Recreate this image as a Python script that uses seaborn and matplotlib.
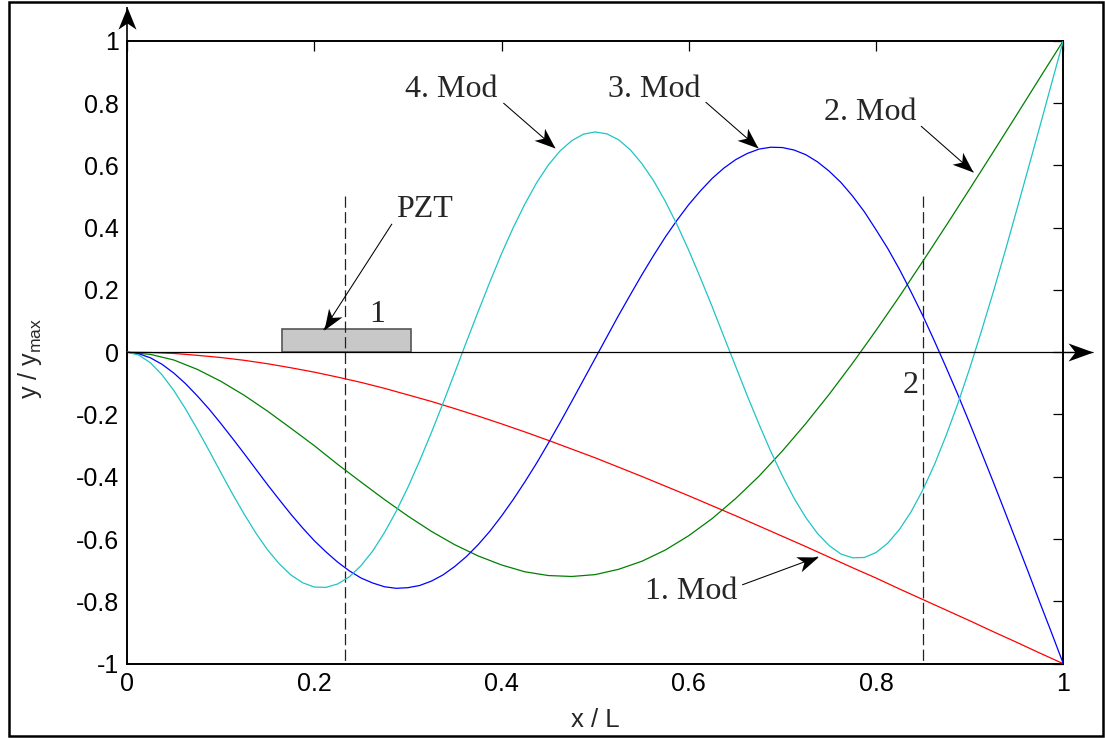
import numpy as np
import pandas as pd
import matplotlib
matplotlib.use("Agg")
import matplotlib.pyplot as plt
import seaborn as sns
from matplotlib.markers import MarkerStyle
from matplotlib.path import Path
from matplotlib.transforms import Affine2D
from matplotlib.patches import Rectangle

# ---------------- data ----------------
x_coarse = [0.0, 0.025, 0.05, 0.075, 0.1, 0.125, 0.15, 0.175, 0.2, 0.225,
            0.25, 0.275, 0.3, 0.325, 0.35, 0.375, 0.4, 0.425, 0.45, 0.475,
            0.5, 0.525, 0.55, 0.575, 0.6, 0.625, 0.65, 0.675, 0.7, 0.725,
            0.75, 0.775, 0.8, 0.825, 0.85, 0.875, 0.9, 0.925, 0.95, 0.975, 1.0]

x_fine = [0.0, 0.0125, 0.025, 0.0375, 0.05, 0.0625, 0.075, 0.0875, 0.1, 0.1125,
          0.125, 0.1375, 0.15, 0.1625, 0.175, 0.1875, 0.2, 0.2125, 0.225, 0.2375,
          0.25, 0.2625, 0.275, 0.2875, 0.3, 0.3125, 0.325, 0.3375, 0.35, 0.3625,
          0.375, 0.3875, 0.4, 0.4125, 0.425, 0.4375, 0.45, 0.4625, 0.475, 0.4875,
          0.5, 0.5125, 0.525, 0.5375, 0.55, 0.5625, 0.575, 0.5875, 0.6, 0.6125,
          0.625, 0.6375, 0.65, 0.6625, 0.675, 0.6875, 0.7, 0.7125, 0.725, 0.7375,
          0.75, 0.7625, 0.775, 0.7875, 0.8, 0.8125, 0.825, 0.8375, 0.85, 0.8625,
          0.875, 0.8875, 0.9, 0.9125, 0.925, 0.9375, 0.95, 0.9625, 0.975, 0.9875, 1.0]

mode1 = [0.0, -0.001, -0.004, -0.010, -0.017, -0.026, -0.037, -0.050, -0.064, -0.080,
         -0.097, -0.116, -0.137, -0.158, -0.181, -0.205, -0.230, -0.256, -0.283, -0.311,
         -0.339, -0.369, -0.399, -0.430, -0.461, -0.493, -0.525, -0.558, -0.591, -0.624,
         -0.658, -0.692, -0.725, -0.760, -0.794, -0.828, -0.862, -0.897, -0.931, -0.966, -1.0]

mode2 = [0.0, -0.007, -0.025, -0.055, -0.093, -0.138, -0.189, -0.244, -0.300, -0.360,
         -0.417, -0.473, -0.526, -0.575, -0.618, -0.654, -0.683, -0.705, -0.717, -0.720,
         -0.714, -0.697, -0.671, -0.635, -0.589, -0.534, -0.470, -0.398, -0.317, -0.229,
         -0.135, -0.035, 0.070, 0.179, 0.292, 0.407, 0.524, 0.642, 0.761, 0.881, 1.0]

mode3 = [0.0, -0.005, -0.018, -0.039, -0.067, -0.101, -0.140, -0.182, -0.228, -0.276,
         -0.325, -0.375, -0.425, -0.473, -0.520, -0.564, -0.605, -0.641, -0.674, -0.702,
         -0.725, -0.741, -0.753, -0.758, -0.756, -0.749, -0.735, -0.715, -0.688, -0.656,
         -0.618, -0.575, -0.526, -0.473, -0.416, -0.356, -0.292, -0.226, -0.158, -0.089,
         -0.020, 0.049, 0.118, 0.184, 0.249, 0.311, 0.370, 0.424, 0.474, 0.518,
         0.558, 0.591, 0.618, 0.638, 0.652, 0.658, 0.657, 0.649, 0.634, 0.611,
         0.581, 0.545, 0.501, 0.451, 0.393, 0.333, 0.266, 0.193, 0.117, 0.035,
         -0.050, -0.137, -0.228, -0.321, -0.415, -0.511, -0.608, -0.705, -0.804, -0.901, -1.0]

mode4 = [0.0, -0.009, -0.034, -0.073, -0.123, -0.182, -0.247, -0.315, -0.385, -0.454,
         -0.519, -0.580, -0.634, -0.679, -0.715, -0.740, -0.754, -0.755, -0.744, -0.721,
         -0.685, -0.638, -0.579, -0.511, -0.434, -0.349, -0.259, -0.164, -0.066, 0.033,
         0.130, 0.225, 0.316, 0.400, 0.476, 0.544, 0.601, 0.646, 0.679, 0.700,
         0.707, 0.701, 0.682, 0.650, 0.605, 0.550, 0.484, 0.409, 0.327, 0.238,
         0.146, 0.050, -0.045, -0.140, -0.231, -0.318, -0.397, -0.469, -0.531, -0.582,
         -0.621, -0.648, -0.660, -0.659, -0.643, -0.613, -0.569, -0.512, -0.442, -0.360,
         -0.266, -0.164, -0.052, 0.067, 0.191, 0.320, 0.454, 0.589, 0.725, 0.863, 1.0]

mode_names = ["1. Mod", "2. Mod", "3. Mod", "4. Mod"]
mode_colors = ["#ff0000", "#008000", "#0000ff", "#1fc4c4"]

x_ticks = [0, 0.2, 0.4, 0.6, 0.8, 1.0]
x_tick_labels = ["0", "0.2", "0.4", "0.6", "0.8", "1"]
y_ticks = [-1, -0.8, -0.6, -0.4, -0.2, 0, 0.2, 0.4, 0.6, 0.8, 1.0]
y_tick_labels = ["-1", "-0.8", "-0.6", "-0.4", "-0.2", "0", "0.2", "0.4", "0.6", "0.8", "1"]

sensor_x = [0.233, 0.85]
sensor_labels = ["1", "2"]
pzt_start, pzt_width, pzt_height = 0.166, 0.137, 0.075

# ---------------- style ----------------
sns.set_style("white")
plt.rcParams["font.family"] = ["Liberation Sans", "DejaVu Sans"]
plt.rcParams["axes.unicode_minus"] = False
plt.rcParams["mathtext.fontset"] = "custom"
plt.rcParams["mathtext.rm"] = "Liberation Sans"
plt.rcParams["mathtext.it"] = "Liberation Sans"

fig = plt.figure(figsize=(11.05, 7.38), dpi=100)
fig.patch.set_facecolor("white")
ax = fig.add_axes([0.11493, 0.10068, 0.96226 - 0.11493, 0.94485 - 0.10068])
ax.set_facecolor("white")

series = [(mode_names[0], x_coarse, mode1), (mode_names[1], x_coarse, mode2),
          (mode_names[2], x_fine, mode3), (mode_names[3], x_fine, mode4)]
frames = [pd.DataFrame({"x": xs, "y": ys, "mode": name}) for name, xs, ys in series]
df = pd.concat(frames, ignore_index=True)

ax.set_xlim(0, 1)
ax.set_ylim(-1, 1)

# sensor dashed lines and PZT patch
for sx in sensor_x:
    ax.plot([sx, sx], [0.5, -1.0], color="#222222", lw=0.9,
            linestyle=(0, (9, 3.5)), zorder=3)
ax.add_patch(Rectangle((pzt_start, 0), pzt_width, pzt_height,
                       facecolor="#c8c8c8", edgecolor="#555555", lw=1.2, zorder=2))

sns.lineplot(data=df, x="x", y="y", hue="mode", palette=mode_colors,
             hue_order=mode_names, legend=False, linewidth=0.9,
             estimator=None, sort=False, ax=ax, zorder=4)

ax.set_xticks(x_ticks)
ax.set_xticklabels(x_tick_labels)
ax.set_yticks(y_ticks)
ax.set_yticklabels(y_tick_labels)
ax.tick_params(direction="in", length=7, width=0.9, top=True, right=True,
               labelsize=18, colors="black")
ax.tick_params(axis="y", pad=6)
ax.tick_params(axis="x", pad=6)
for side in ["left", "right", "top", "bottom"]:
    ax.spines[side].set_visible(True)
    ax.spines[side].set_color("black")
    ax.spines[side].set_linewidth(1.4)

ax.set_xlabel("x / L", fontsize=18.5)
ax.set_ylabel(r"y / y$_{\mathrm{max}}$", fontsize=18)
ax.xaxis.set_label_coords(0.5, -0.071)
ax.yaxis.set_label_coords(-0.089, 0.49)


# ---------------- arrows ----------------
def stealth_arrow(tail, tip, head_len_pt, head_w_pt, lw=0.75, z=6):
    ax.plot([tail[0], tip[0]], [tail[1], tip[1]], color="black", lw=lw,
            clip_on=False, solid_capstyle="butt", zorder=z)
    p0 = ax.transData.transform(tail)
    p1 = ax.transData.transform(tip)
    ang = np.degrees(np.arctan2(p1[1] - p0[1], p1[0] - p0[0]))
    hw = head_w_pt / 2.0 / head_len_pt
    verts = [(0, 0), (-1, hw), (-0.72, 0), (-1, -hw), (0, 0)]
    codes = [Path.MOVETO, Path.LINETO, Path.LINETO, Path.LINETO, Path.CLOSEPOLY]
    mk = MarkerStyle(Path(verts, codes), transform=Affine2D().rotate_deg(ang))
    ax.plot([tip[0]], [tip[1]], marker=mk, markersize=2 * head_len_pt,
            color="black", markeredgewidth=0, linestyle="none",
            clip_on=False, zorder=z + 1)


# axis arrows
ax.plot([0, 1.03], [0, 0], color="black", lw=0.9, clip_on=False, zorder=5)
stealth_arrow((1.0, 0.0), (1.032, 0.0), 18, 13, lw=0.9)
stealth_arrow((0.0, 1.0), (0.0, 1.108), 16, 13, lw=1.2)

# annotation texts
serif = ["Liberation Serif", "DejaVu Serif"]
txt_kw = dict(fontsize=23, family=serif, ha="left", va="baseline", zorder=8)
ax.text(0.297, 0.819, "4. Mod", **txt_kw)
ax.text(0.514, 0.819, "3. Mod", **txt_kw)
ax.text(0.744, 0.745, "2. Mod", **txt_kw)
ax.text(0.553, -0.792, "1. Mod", **txt_kw)
ax.text(0.287, 0.435, "PZT", **txt_kw)
ax.text(0.259, 0.097, sensor_labels[0], **txt_kw)
ax.text(0.828, -0.132, sensor_labels[1], **txt_kw)

stealth_arrow((0.402, 0.800), (0.457, 0.656), 15, 11.5)
stealth_arrow((0.618, 0.803), (0.674, 0.656), 15, 11.5)
stealth_arrow((0.848, 0.726), (0.904, 0.578), 15, 11.5)
stealth_arrow((0.657, -0.747), (0.738, -0.657), 15, 11.5)
stealth_arrow((0.283, 0.412), (0.210, 0.0715), 15, 11.5)

# outer frame
fig.patches.append(Rectangle((9 / 1105, 2 / 738), (1103 - 9) / 1105, (736 - 2) / 738,
                             transform=fig.transFigure, fill=False,
                             edgecolor="black", lw=1.8))

fig.savefig("out.png", dpi=100, facecolor="white")
